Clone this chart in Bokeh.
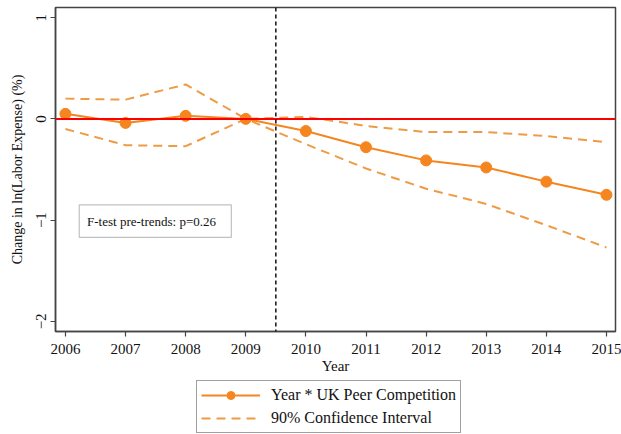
from bokeh.plotting import figure
from bokeh.layouts import column
from bokeh.models import (ColumnDataSource, Span, Legend, LegendItem, Range1d,
                          FixedTicker, BoxAnnotation, Label)
from bokeh.embed import file_html
from bokeh.resources import INLINE

years = [2006, 2007, 2008, 2009, 2010, 2011, 2012, 2013, 2014, 2015]
estimate = [0.05, -0.04, 0.03, 0.00, -0.12, -0.28, -0.41, -0.48, -0.62, -0.75]
ci_upper = [0.20, 0.19, 0.34, 0.00, 0.02, -0.07, -0.13, -0.13, -0.17, -0.23]
ci_lower = [-0.10, -0.26, -0.27, 0.00, -0.25, -0.49, -0.69, -0.84, -1.05, -1.27]
y_ticks = [-2, -1, 0, 1]
treatment_break = 2009.5
ftest_text = "F-test pre-trends: p=0.26"
legend_labels = ["Year * UK Peer Competition", "90% Confidence Interval"]

SERIF = "Liberation Serif"
ORANGE = "#F5861F"
ORANGE_DASH = "#EE9B45"

src = ColumnDataSource(dict(year=years, est=estimate, hi=ci_upper, lo=ci_lower))

p = figure(width=621, height=376, output_backend="svg", toolbar_location=None,
           x_range=Range1d(2005.835, 2015.15), y_range=Range1d(-2.1, 1.1),
           min_border_left=55, min_border_right=6, min_border_top=7,
           min_border_bottom=0)
p.grid.visible = False
p.background_fill_color = "white"
p.border_fill_color = "white"
p.outline_line_color = "#444444"
p.outline_line_width = 1.5

# axes
for ax in (p.xaxis[0], p.yaxis[0]):
    ax.axis_line_color = "#444444"
    ax.axis_line_width = 1.5
    ax.major_tick_line_color = "#444444"
    ax.major_tick_line_width = 1.2
    ax.major_tick_out = 5
    ax.major_tick_in = 0
    ax.minor_tick_line_color = None
    ax.major_label_text_font = SERIF
    ax.major_label_text_font_size = "15px"
    ax.major_label_text_color = "#111111"
    ax.axis_label_text_font = SERIF
    ax.axis_label_text_font_style = "normal"
    ax.axis_label_text_font_size = "15px"
    ax.axis_label_text_color = "#111111"

p.xaxis.ticker = FixedTicker(ticks=years)
p.xaxis.axis_label = "Year"
p.xaxis.major_label_standoff = 7
p.xaxis.axis_label_standoff = 1
p.yaxis.ticker = FixedTicker(ticks=y_ticks)
p.yaxis.major_label_orientation = "vertical"
p.yaxis.major_label_standoff = 5
p.yaxis.axis_label = "Change in ln(Labor Expense) (%)"
p.yaxis.axis_label_text_font_size = "14px"
p.yaxis.axis_label_standoff = 8

# reference lines
p.add_layout(Span(location=0, dimension="width", line_color="#FF0000", line_width=2))
p.add_layout(Span(location=treatment_break, dimension="height", line_color="#111111",
                  line_width=1.5, line_dash="4 3"))

# confidence band edges
line_ci = dict(line_color=ORANGE_DASH, line_width=2, line_dash="9 6")
p.line("year", "hi", source=src, **line_ci)
p.line("year", "lo", source=src, **line_ci)

# point estimates
line_est = dict(line_color=ORANGE, line_width=2)
pts_est = dict(size=11, fill_color=ORANGE, line_color=ORANGE)
p.line("year", "est", source=src, **line_est)
p.scatter("year", "est", source=src, **pts_est)

# F-test note
p.add_layout(BoxAnnotation(left=2006.23, right=2008.76, top=-0.85, bottom=-1.17,
                           fill_color="white", fill_alpha=1.0,
                           line_color="#333333", line_width=1.2))
p.add_layout(Label(x=2006.36, y=-1.01, text=ftest_text, text_font=SERIF,
                   text_font_size="13px", text_baseline="middle", text_color="#111111"))

# legend strip underneath the chart; its keys come from placeholder renderers
# holding a single NaN point so that nothing is drawn in the strip itself
lg = figure(width=621, height=58, output_backend="svg", toolbar_location=None,
            x_range=Range1d(0, 1), y_range=Range1d(0, 1),
            min_border=0, outline_line_color=None)
lg.axis.visible = False
lg.grid.visible = False
blank = ColumnDataSource(dict(x=[float("nan")], y=[float("nan")]))
k_line = lg.line("x", "y", source=blank, **line_est)
k_pts = lg.scatter("x", "y", source=blank, **pts_est)
k_ci = lg.line("x", "y", source=blank, **line_ci)

legend = Legend(items=[
    LegendItem(label=legend_labels[0], renderers=[k_line, k_pts]),
    LegendItem(label=legend_labels[1], renderers=[k_ci]),
], location=(141, 1), orientation="vertical")
legend.label_text_font = SERIF
legend.label_text_font_size = "16px"
legend.label_text_color = "#111111"
legend.glyph_width = 59
legend.glyph_height = 20
legend.label_height = 20
legend.spacing = 3
legend.padding = 4
legend.margin = 0
legend.label_standoff = 11
legend.border_line_color = "#444444"
legend.border_line_width = 1.2
legend.background_fill_alpha = 1.0
lg.add_layout(legend, "center")

open("out.html", "w").write(file_html(column(p, lg, spacing=0), INLINE))
